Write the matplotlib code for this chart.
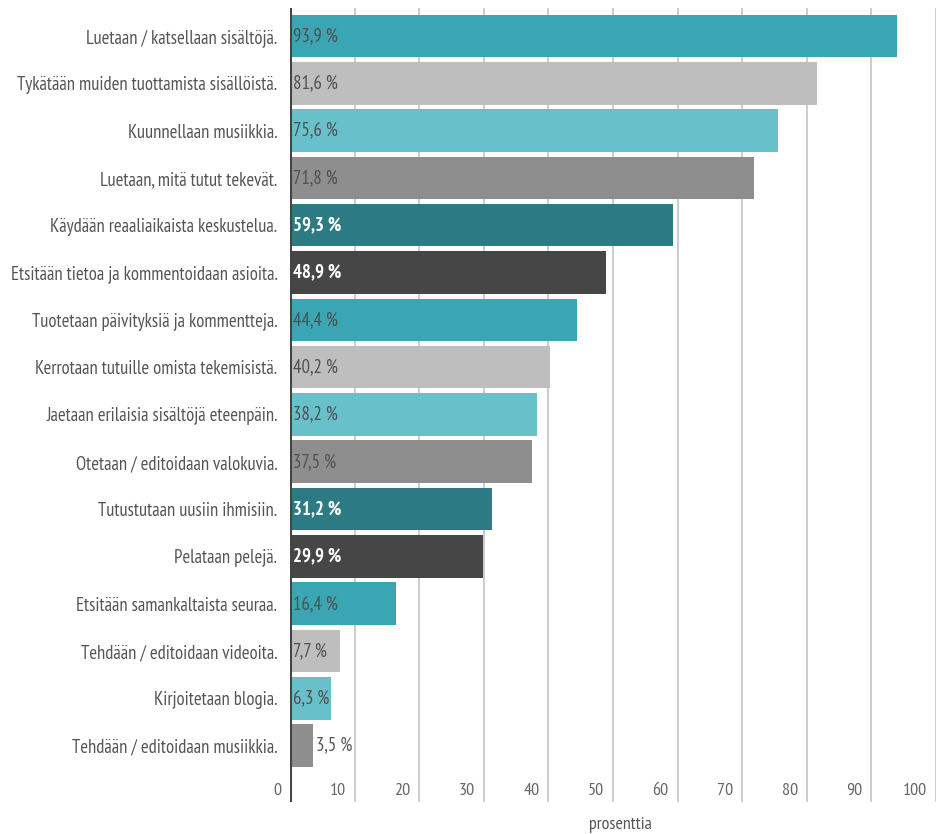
import matplotlib
matplotlib.use('Agg')
from matplotlib import pyplot as plt
import numpy as np

categories = [
    'Luetaan / katsellaan sisältöjä.',
    'Tykätään muiden tuottamista sisällöistä.',
    'Kuunnellaan musiikkia.',
    'Luetaan, mitä tutut tekevät.',
    'Käydään reaaliaikaista keskustelua.',
    'Etsitään tietoa ja kommentoidaan asioita.',
    'Tuotetaan päivityksiä ja kommentteja.',
    'Kerrotaan tutuille omista tekemisistä.',
    'Jaetaan erilaisia sisältöjä eteenpäin.',
    'Otetaan / editoidaan valokuvia.',
    'Tutustutaan uusiin ihmisiin.',
    'Pelataan pelejä.',
    'Etsitään samankaltaista seuraa.',
    'Tehdään / editoidaan videoita.',
    'Kirjoitetaan blogia.',
    'Tehdään / editoidaan musiikkia.',
]
values = [93.9, 81.6, 75.6, 71.8, 59.3, 48.9, 44.4, 40.2, 38.2, 37.5,
          31.2, 29.9, 16.4, 7.7, 6.3, 3.5]
xticks = [0, 10, 20, 30, 40, 50, 60, 70, 80, 90, 100]

palette = ['#3aa5b3', '#bebebe', '#68c0ca', '#8e8e8e', '#2c7a84', '#464646']
dark = {'#2c7a84', '#464646'}

plt.rcParams['font.family'] = ['PT Sans Narrow', 'DejaVu Sans']
plt.rcParams['font.stretch'] = 'condensed'
fs = 13.4
vfs = 13.5

fig = plt.figure(figsize=(9.37, 8.34), dpi=100)
ax = fig.add_axes([290/937, 32/834, 646/937, 794/834])

y = np.arange(len(values))
colors = [palette[i % len(palette)] for i in range(len(values))]
ax.barh(y, values, height=0.9, color=colors, zorder=2)

ax.set_xlim(0, 100)
ax.set_ylim(16.19, -0.59)

for t in xticks[1:]:
    ax.axvline(t, color='#c4c4c4', lw=1.2, zorder=1)
ax.axvline(0, color='#444444', lw=2.2, zorder=3)

for yi, v, c in zip(y, values, colors):
    txt = '{:.1f} %'.format(v).replace('.', ',')
    if v < 5:
        ax.text(v + 0.6, yi, txt, va='center', ha='left', fontsize=vfs,
                color='#555555', zorder=4)
    elif c in dark:
        ax.text(0.5, yi, txt, va='center', ha='left', fontsize=vfs,
                color='white', fontweight='bold', zorder=4)
    else:
        ax.text(0.5, yi, txt, va='center', ha='left', fontsize=vfs,
                color='#505050', zorder=4)

for t in xticks:
    ax.text(t - 1.4, 15.95, str(t), va='center', ha='right', fontsize=13,
            color='#666666', zorder=4)

ax.set_yticks(y)
ax.set_yticklabels(categories, fontsize=fs, color='#555555')
ax.tick_params(axis='y', length=0, pad=9)
ax.set_xticks([])
for s in ax.spines.values():
    s.set_visible(False)

fig.text(620/937, 1 - 825/834, 'prosenttia', ha='center', va='center',
         fontsize=13, color='#555555')

fig.savefig('out.png', dpi=100)
